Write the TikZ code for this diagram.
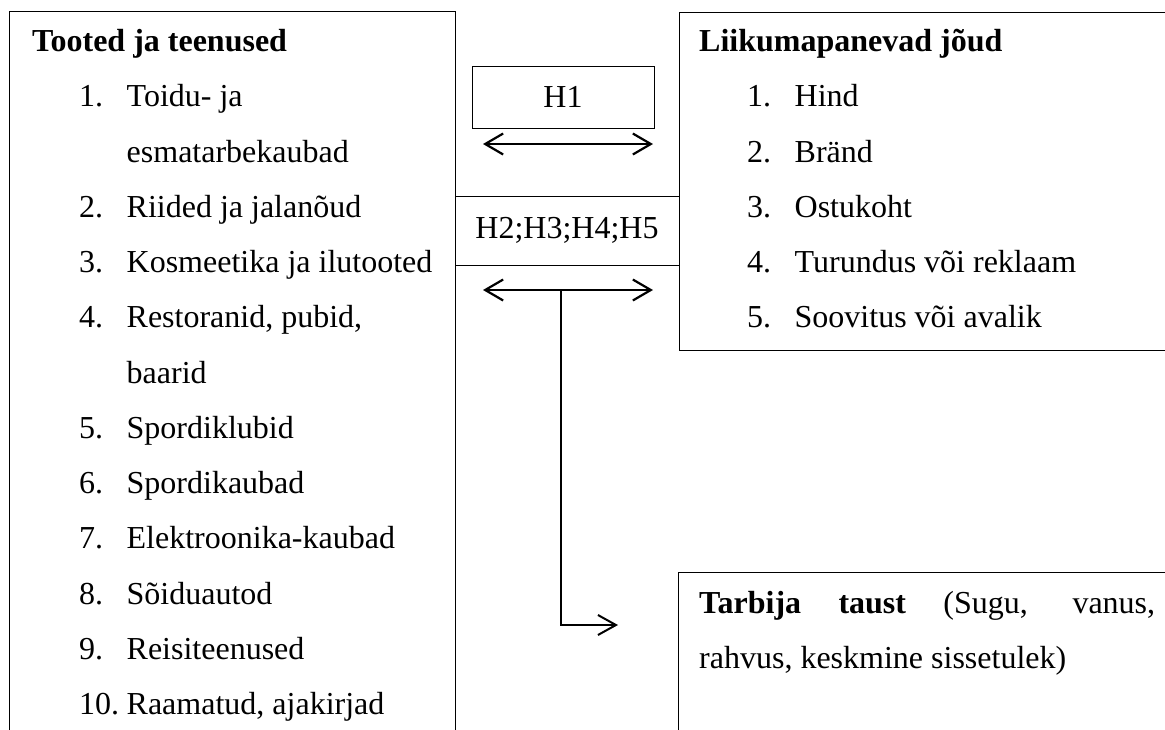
\documentclass[tikz,border=0pt]{standalone}
\usepackage{fontspec}
\setmainfont{Liberation Serif}
\usetikzlibrary{arrows.meta}
\newcommand{\bodyfont}{\fontsize{32}{55}\selectfont}
\newcommand{\itemno}[1]{\makebox[47.5pt][l]{#1}}

\begin{document}
\begin{tikzpicture}[x=1pt,y=-1pt]
	\tikzstyle{frame}=[rectangle,draw,line width=1pt,inner sep=0pt,outer sep=0pt,anchor=north west]
	\tikzstyle{hyp}=[rectangle,draw,line width=1pt,inner sep=0pt,outer sep=0pt,font=\bodyfont]
	\tikzstyle{line}=[inner sep=0pt,anchor=base west,font=\bodyfont]
	\tikzstyle{heading}=[line,font=\bodyfont\bfseries]
	\tikzstyle{both}=[line width=2.2pt,{Straight Barb[length=18pt,width=21pt]}-{Straight Barb[length=18pt,width=21pt]}]
	\tikzstyle{one}=[line width=2pt,-{Straight Barb[length=18pt,width=20pt]}]
	\useasboundingbox (0,0) rectangle (1165,729);
	\clip (0,0) rectangle (1165,729);
	% boxes (cut off by the page edge)
	\node (goods)      at (9,11)    [frame,minimum width=446pt,minimum height=760pt] {};
	\node (forces)     at (679,12)  [frame,minimum width=520pt,minimum height=338pt] {};
	\node (background) at (678,572) [frame,minimum width=520pt,minimum height=200pt] {};
	\node (h1)         at (563,97)    [hyp,minimum width=182pt,minimum height=62pt] {H1};
	\node (h2)         at (567,230.5) [hyp,minimum width=224pt,minimum height=69pt] {H2;H3;H4;H5};
	% left list
	\node (goods0)  at (32,51.5)   [heading] {Tooted ja teenused};
	\node (goods1)  at (79,106.75) [line] {\itemno{1.}Toidu- ja};
	\node (goods1b) at (126.5,162) [line] {esmatarbekaubad};
	\node (goods2)  at (79,217.25) [line] {\itemno{2.}Riided ja jalanõud};
	\node (goods3)  at (79,272.5)  [line] {\itemno{3.}Kosmeetika ja ilutooted};
	\node (goods4)  at (79,327.75) [line] {\itemno{4.}Restoranid, pubid,};
	\node (goods4b) at (126.5,383) [line] {baarid};
	\node (goods5)  at (79,438.25) [line] {\itemno{5.}Spordiklubid};
	\node (goods6)  at (79,493.5)  [line] {\itemno{6.}Spordikaubad};
	\node (goods7)  at (79,548.75) [line] {\itemno{7.}Elektroonika-kaubad};
	\node (goods8)  at (79,604)    [line] {\itemno{8.}Sõiduautod};
	\node (goods9)  at (79,659.25) [line] {\itemno{9.}Reisiteenused};
	\node (goods10) at (79,714.5)  [line] {\itemno{10.}Raamatud, ajakirjad};
	% right list
	\node (forces0) at (699,51.5)   [heading] {Liikumapanevad jõud};
	\node (forces1) at (747,106.75) [line] {\itemno{1.}Hind};
	\node (forces2) at (747,162)    [line] {\itemno{2.}Bränd};
	\node (forces3) at (747,217.25) [line] {\itemno{3.}Ostukoht};
	\node (forces4) at (747,272.5)  [line] {\itemno{4.}Turundus või reklaam};
	\node (forces5) at (747,327.75) [line] {\itemno{5.}Soovitus või avalik};
	% background text
	\node (back1) at (699,613) [line] {\makebox[456pt][s]{\textbf{Tarbija} \textbf{taust} (Sugu, vanus,}};
	\node (back2) at (699,668) [line] {rahvus, keskmine sissetulek)};
	% arrows
	\draw [both] ([xshift=11pt,yshift=-16pt]h1.south west) -- ([xshift=-1pt,yshift=-16pt]h1.south east);
	\draw [both] ([xshift=28pt,yshift=-25pt]h2.south west) -- ([xshift=-26pt,yshift=-25pt]h2.south east);
	\coordinate (split) at ([xshift=-6pt,yshift=-25pt]h2.south);
	\draw [one] (split) |- ([xshift=-60pt,yshift=-53pt]background.north west);
\end{tikzpicture}
\end{document}
